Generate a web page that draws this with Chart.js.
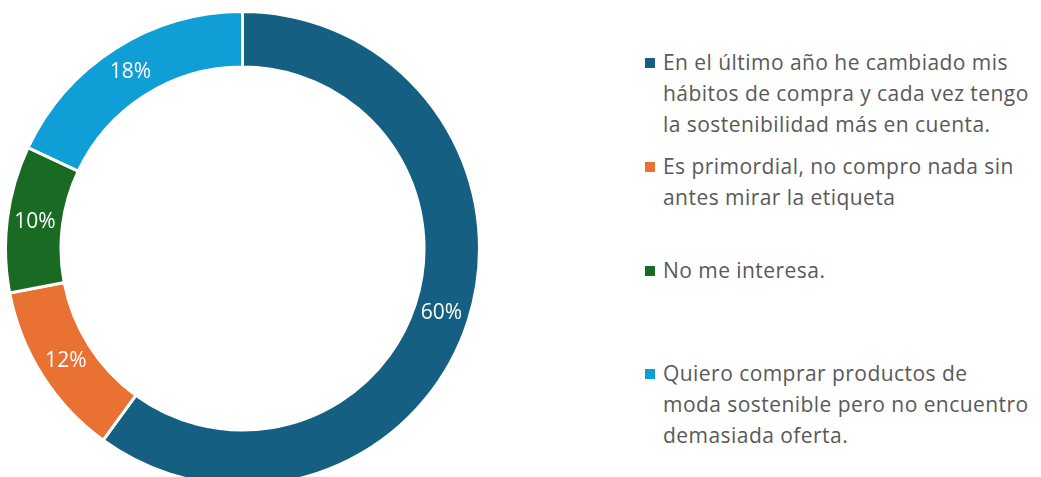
<!DOCTYPE html>
<html>
<head>
<meta charset="utf-8">
<script src="https://cdn.jsdelivr.net/npm/chart.js@4/dist/chart.umd.min.js"></script>
<style>
  html, body { margin: 0; padding: 0; background: #fff; overflow: hidden; }
  body { width: 1041px; height: 477px; position: relative; font-family: 'Open Sans', sans-serif; }
  #chartBox { position: absolute; left: 4px; top: 10px; width: 477px; height: 477px; }
  #legend { position: absolute; left: 645px; top: 47px; }
  .legend-item { position: absolute; left: 0; height: 100px; width: 396px; }
  .legend-box { position: absolute; left: 0; top: 11px; width: 10px; height: 10px; }
  .legend-text { position: absolute; left: 18px; top: 0; font-size: 21px; letter-spacing: 0.45px; line-height: 31px; color: #595959; white-space: nowrap; }
</style>
</head>
<body>
<div id="chartBox"><canvas id="donut"></canvas></div>
<div id="legend"></div>
<script>
// Datos
const categories = [
    ['En el último año he cambiado mis', 'hábitos de compra y cada vez tengo', 'la sostenibilidad más en cuenta.'],
    ['Es primordial, no compro nada sin', 'antes mirar la etiqueta'],
    ['No me interesa.'],
    ['Quiero comprar productos de', 'moda sostenible pero no encuentro', 'demasiada oferta.']
];
const percentages = [60, 12, 10, 18];
const sliceColors = ['#156082', '#E97132', '#196B24', '#0F9ED5'];

// Etiquetas de porcentaje dentro del anillo
const pctLabels = {
    id: 'pctLabels',
    afterDatasetsDraw(chart) {
        const ctx = chart.ctx;
        const meta = chart.getDatasetMeta(0);
        ctx.save();
        ctx.fillStyle = '#ffffff';
        ctx.font = "21px 'Open Sans', sans-serif";
        ctx.textAlign = 'center';
        ctx.textBaseline = 'middle';
        meta.data.forEach((arc, i) => {
            const p = arc.tooltipPosition();
            ctx.fillText(percentages[i] + '%', p.x, p.y);
        });
        ctx.restore();
    }
};

function initChart() {
    const ctx = document.getElementById('donut').getContext('2d');
    new Chart(ctx, {
        type: 'doughnut',
        data: {
            labels: categories.map(c => c.join(' ')),
            datasets: [{ data: percentages, backgroundColor: sliceColors, borderColor: '#ffffff', borderWidth: 3 }]
        },
        options: {
            responsive: true, maintainAspectRatio: false, animation: false,
            cutout: '76.6%',
            layout: { padding: 0 },
            plugins: { legend: { display: false }, tooltip: { enabled: false } }
        },
        plugins: [pctLabels]
    });
}

function buildLegend() {
    const legend = document.getElementById('legend');
    legend.innerHTML = categories.map((lines, i) =>
        `<div class="legend-item" style="top:${(i * 103.8).toFixed(1)}px"><div class="legend-box" style="background:${sliceColors[i]}"></div><div class="legend-text">${lines.join('<br>')}</div></div>`
    ).join('');
}

buildLegend();
initChart();
</script>
</body>
</html>
